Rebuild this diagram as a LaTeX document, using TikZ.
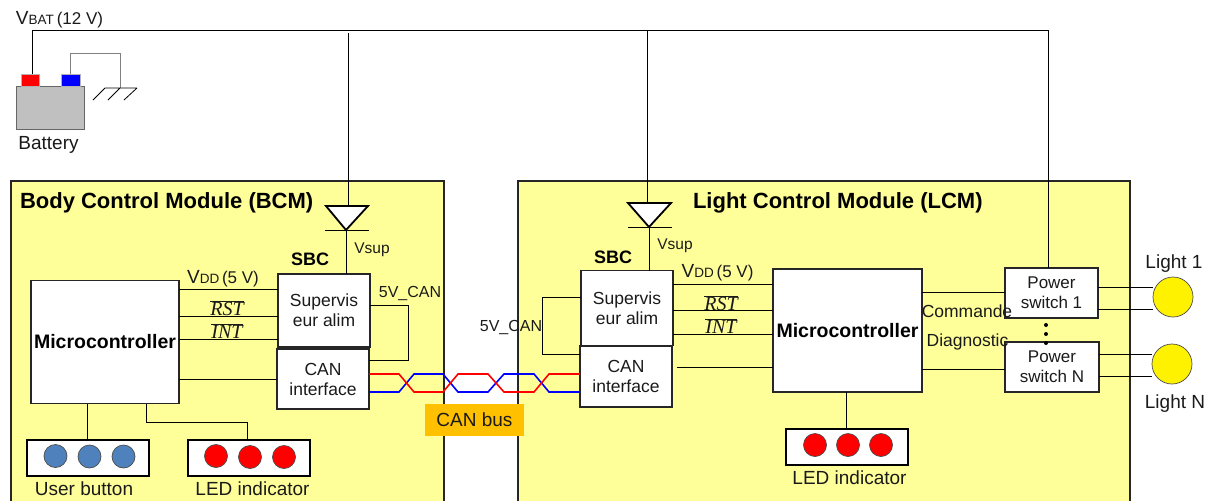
\documentclass[tikz,border=0pt]{standalone}
\usepackage{fontspec}
\setmainfont{Liberation Sans}
\newfontfamily\serifit{Liberation Serif}[ItalicFont=* Italic]
\definecolor{modyellow}{HTML}{FFFF99}
\definecolor{batgray}{HTML}{C0C0C0}
\definecolor{btnblue}{HTML}{4F81BD}
\definecolor{canorange}{HTML}{FFC000}
\definecolor{inktext}{HTML}{1A1A1A}
\newcommand{\capvolt}{{\fontsize{19}{20}\selectfont V}}
\newcommand{\smallsub}[1]{{\fontsize{13.5}{15}\selectfont #1}}
\newcommand{\ovlab}[1]{$\overline{\hbox{\serifit\itshape\fontsize{20}{22}\selectfont #1}}$}
\tikzset{
 every node/.style={font=\fontsize{19}{20}\selectfont, text=inktext, inner sep=0pt, outer sep=0pt},
 module/.style={draw=black!85, line width=2pt, fill=modyellow, anchor=north west},
 titletext/.style={font=\fontsize{22}{24}\selectfont\bfseries, text=black},
 mcutext/.style={font=\fontsize{19.5}{22}\selectfont\bfseries, text=black},
 sbctext/.style={font=\fontsize{18}{20}\selectfont\bfseries, text=black},
 boxnode/.style={draw=black!85, line width=1.8pt, fill=white, align=center, font=\fontsize{17.5}{20}\selectfont},
 wire/.style={draw=black, line width=1pt},
 graywire/.style={draw=black!50, line width=1pt},
 led/.style={circle, draw=black!70, line width=0.7pt, fill=red, minimum size=23pt},
 btn/.style={circle, draw=black!70, line width=0.7pt, fill=btnblue, minimum size=23pt},
 lamp/.style={circle, draw=black!70, line width=0.7pt, fill=yellow, minimum size=40pt},
 terminal/.style={draw=black!30, line width=0.6pt, minimum width=18pt, minimum height=12pt},
 panel/.style={draw=black, line width=2pt, fill=white, minimum width=122pt, minimum height=36pt},
 diode/.style={draw=black, line width=1.8pt, fill=white, line join=miter},
 canred/.style={draw=red, line width=1.6pt},
 canblue/.style={draw=blue, line width=1.6pt},
 midtext/.style={font=\fontsize{17.5}{20}\selectfont},
 vdtext/.style={font=\fontsize{17}{20}\selectfont},
 captext/.style={font=\fontsize{16}{18}\selectfont},
 supplytext/.style={font=\fontsize{15.5}{18}\selectfont}
}
\begin{document}
\begin{tikzpicture}[x=1pt,y=-1pt]
\useasboundingbox (0,0) rectangle (1211,501);
\clip (0,0) rectangle (1211,501);
% modules
\node[module, minimum width=433pt, minimum height=340pt] (bcm) at (11,181) {};
\node[module, minimum width=612pt, minimum height=340pt] (lcm) at (518,181) {};
\node[titletext, anchor=west] (bcmt) at (20,203) {Body Control Module (BCM)};
\node[titletext, anchor=west] (lcmt) at (693,202.5) {Light Control Module (LCM)};
% battery
\node[draw=black!60, line width=1pt, fill=batgray, minimum width=68pt, minimum height=43pt] (bat) at (50,107.5) {};
\node[terminal, fill=red] (pos) at (30,80) {};
\node[terminal, fill=blue, minimum width=19pt] (neg) at (70.5,80) {};
\node (batl) at (48.5,145) {Battery};
\node[anchor=west, vdtext] (vbat) at (16,20) {\capvolt\smallsub{BAT}\,(12 V)};
\coordinate (rail) at (32,30);
\coordinate (railend) at (1048,30);
\coordinate (gnd) at (120,88);
\draw[graywire] (neg.north) -- (70.5,53) -- (120,53) -- (gnd);
\draw[line width=0.8pt] (105,88) -- (137,88) (105,88) -- (93,100) (120,88) -- (108,100) (137,88) -- (124,100);
% BCM blocks
\node[boxnode, minimum width=148pt, minimum height=123pt, mcutext] (mcb) at (105,342) {Microcontroller};
\node[boxnode, minimum width=92pt, minimum height=73pt] (supb) at (324,310.5) {Supervis\\eur alim};
\node[boxnode, minimum width=92pt, minimum height=60pt] (canb) at (323,379) {CAN\\interface};
\node[panel] (ub) at (88,457.5) {};
\node[panel] (ledb) at (248.5,457.5) {};
\node[btn] (b1) at (55.5,456) {};
\node[btn] (b2) at (89.5,456.5) {};
\node[btn] (b3) at (123.5,456.5) {};
\node[led] (l1) at (216,456) {};
\node[led] (l2) at (250,457) {};
\node[led] (l3) at (284,457) {};
\node (ubl) at (84,488.5) {User button};
\node (ledbl) at (252.5,488.5) {LED indicator};
\node[sbctext] (sbcb) at (310,259.5) {SBC};
\node[supplytext] (vsb) at (372,250) {Vsup};
\node[vdtext] (vdb) at (223,279) {\capvolt\smallsub{DD}\,(5 V)};
\node (rstb) at (227,308) {\ovlab{RST}};
\node (intb) at (227,331) {\ovlab{INT}};
\node[captext] (v5b) at (410,293) {5V\_CAN};
\draw[wire] (mcb.east |- 0,289) -- (supb.west |- 0,289);
\draw[wire] (mcb.east |- 0,316) -- (supb.west |- 0,316);
\draw[wire] (mcb.east |- 0,339) -- (supb.west |- 0,339);
\draw[wire] (mcb.east |- 0,379) -- (canb.west |- 0,379);
\draw[wire] (supb.east |- 0,305) -- (408,305) -- (408,360) -- (canb.east |- 0,360);
\draw[wire] (mcb.south -| 87.5,0) -- (ub.north -| 87.5,0);
\draw[wire] (mcb.south -| 146,0) -- (146,422) -- (247,422) -- (ledb.north -| 247,0);
% LCM blocks
\node[boxnode, minimum width=149pt, minimum height=123pt, mcutext] (mcl) at (847.5,330.5) {Microcontroller};
\node[boxnode, minimum width=92pt, minimum height=75pt] (supl) at (627,308) {Supervis\\eur alim};
\node[boxnode, minimum width=92pt, minimum height=61pt] (canl) at (626,376.5) {CAN\\interface};
\node[boxnode, minimum width=93pt, minimum height=50pt, vdtext] (ps1) at (1051.5,293) {Power\\switch 1};
\node[boxnode, minimum width=94pt, minimum height=50pt, vdtext] (psn) at (1052,367) {Power\\switch N};
\node[lamp] (lt1) at (1173,297) {};
\node[lamp] (ltn) at (1172,364) {};
\node (lt1l) at (1174,264) {Light 1};
\node (ltnl) at (1175,403.5) {Light N};
\node[panel] (ledl) at (846.5,446.5) {};
\node[led] (l4) at (815,445) {};
\node[led] (l5) at (848,445) {};
\node[led] (l6) at (881,445) {};
\node (ledll) at (849.5,478) {LED indicator};
\node[sbctext] (sbcl) at (613,257) {SBC};
\node[supplytext] (vsl) at (675,246) {Vsup};
\node[vdtext] (vdl) at (717.5,273) {\capvolt\smallsub{DD}\,(5 V)};
\node (rstl) at (721,303) {\ovlab{RST}};
\node (intl) at (721,326) {\ovlab{INT}};
\node[captext] (v5l) at (511,327) {5V\_CAN};
\draw[wire] (supl.east |- 0,284) -- (mcl.west |- 0,284);
\draw[wire] (supl.east |- 0,310) -- (mcl.west |- 0,310);
\draw[wire] (supl.east |- 0,334) -- (mcl.west |- 0,334);
\coordinate (canlout) at (677,367);
\draw[wire] (canlout) -- (mcl.west |- canlout);
\draw[wire] (supl.west |- 0,297) -- (542,297) -- (542,354) -- (canl.west |- 0,354);
\draw[wire] (mcl.east |- 0,292) -- (ps1.west |- 0,292);
\draw[wire] (mcl.east |- 0,369) -- (psn.west |- 0,369);
\draw[wire] (ps1.east |- 0,287) -- (lt1.west |- 0,287);
\draw[wire] (ps1.east |- 0,309) -- (lt1.west |- 0,309);
\draw[wire] (psn.east |- 0,354.5) -- (ltn.west |- 0,354.5);
\draw[wire] (psn.east |- 0,376) -- (ltn.west |- 0,376);
\draw[wire] (mcl.south -| 846,0) -- (ledl.north -| 846,0);
\fill (1046,325) circle (2pt) (1046,334) circle (2pt) (1046,343) circle (2pt);
\node[midtext] (cmd) at (967,311) {Commande};
\node[midtext] (diag) at (967.5,342) {Diagnostic};
% power rail and diodes
\draw[wire] (rail |- pos.north) -- (rail) -- (railend) -- (ps1.north -| railend);
\coordinate (da) at (346,230);
\coordinate (dl) at (649,227);
\draw[wire] (348,33) -- (348,208);
\draw[wire] (647,30) -- (647,205);
\draw[diode] (326,206) -- (368,206) -- (da) -- cycle;
\draw[diode] (628,203) -- (671,203) -- (dl) -- cycle;
\draw[wire] (325,230) -- (369,230);
\draw[wire] (628,227) -- (672,227);
\draw[wire] (da) -- (supb.north -| da);
\draw[wire] (dl) -- (supl.north -| dl);
% CAN twist
\draw[canblue] (canb.east |- 0,392) -- (399,392) -- (414,374) -- (443,374) -- (458,392) -- (488,392) -- (504,374) -- (534,374) -- (549,392) -- (canl.west |- 0,392);
\draw[canred] (canb.east |- 0,374) -- (399,374) -- (414,392) -- (443,392) -- (458,374) -- (488,374) -- (504,392) -- (534,392) -- (549,374) -- (canl.west |- 0,374);
\node[fill=canorange, minimum width=99pt, minimum height=32pt] (canbus) at (474.5,419.5) {CAN bus};
\end{tikzpicture}
\end{document}
